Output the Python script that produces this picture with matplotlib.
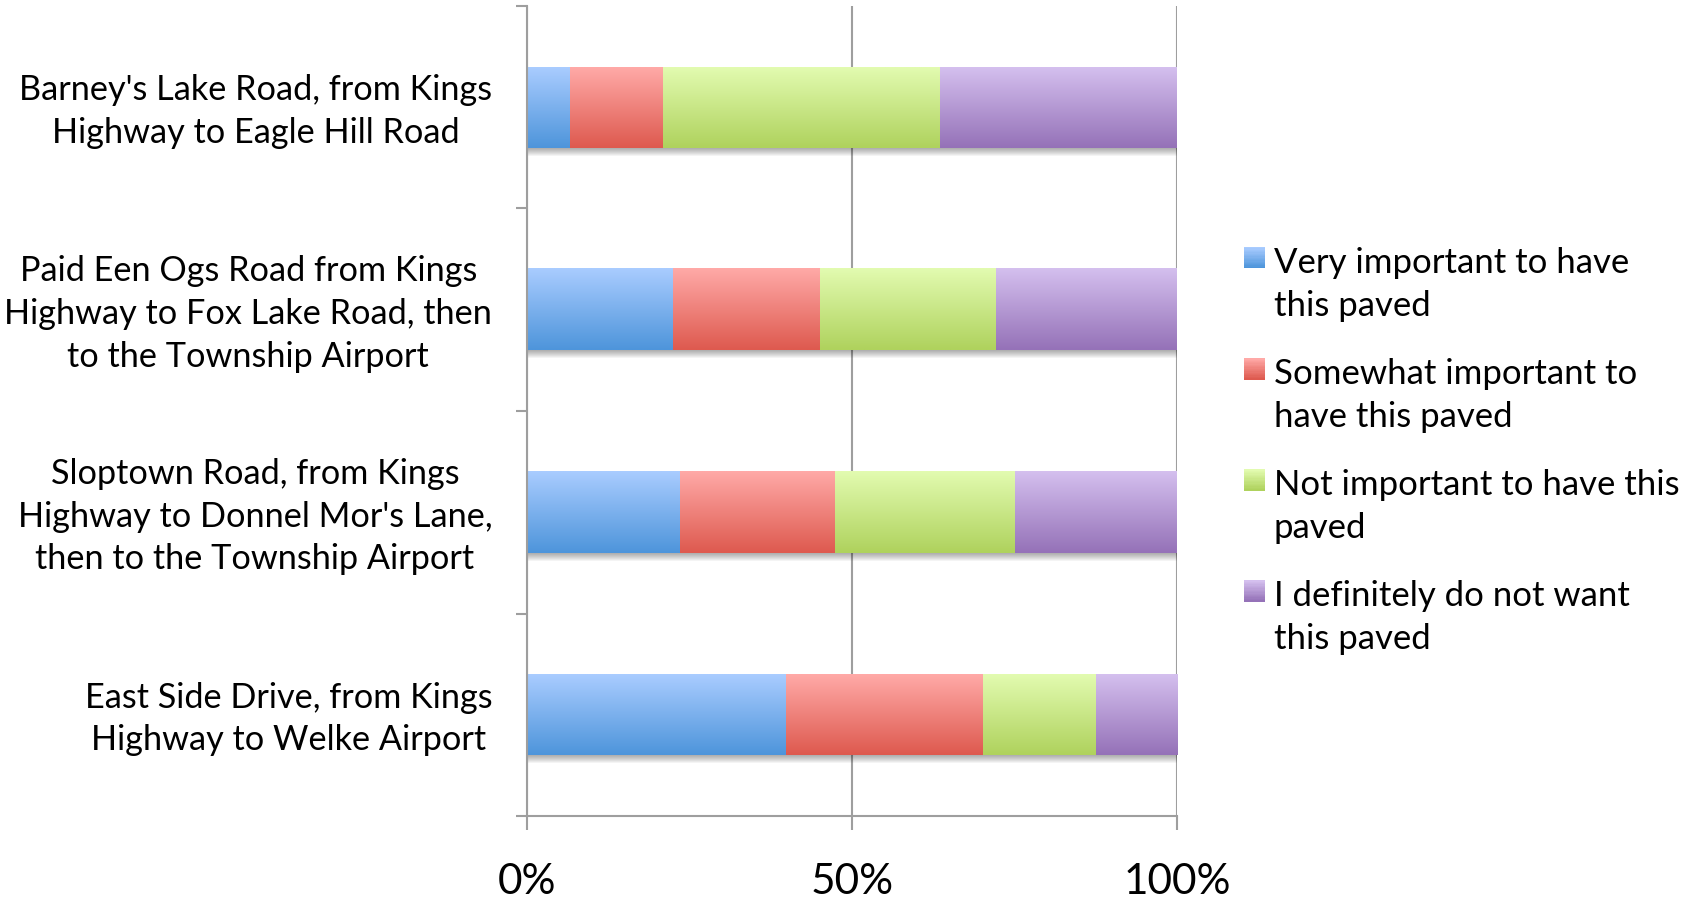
import numpy as np
import matplotlib
matplotlib.use("Agg")
import matplotlib.pyplot as plt
from matplotlib.patches import Rectangle
from matplotlib.legend_handler import HandlerBase
from matplotlib.transforms import ScaledTranslation
from matplotlib.colors import to_rgb

# ---------------- data ----------------
categories = [
    "Barney's Lake Road, from Kings\nHighway to Eagle Hill Road",
    "Paid Een Ogs Road from Kings\nHighway to Fox Lake Road, then\nto the Township Airport",
    "Sloptown Road, from Kings\nHighway to Donnel Mor's Lane,\nthen to the Township Airport",
    "East Side Drive, from Kings\nHighway to Welke Airport",
]
series_names = [
    "Very important to have\nthis paved",
    "Somewhat important to\nhave this paved",
    "Not important to have this\npaved",
    "I definitely do not want\nthis paved",
]
very_important = [6.6, 22.4, 23.5, 39.9]
somewhat_important = [14.3, 22.7, 23.9, 30.3]
not_important = [42.7, 27.1, 27.7, 17.3]
definitely_not = [36.4, 27.8, 24.9, 12.5]
x_ticks = [0, 50, 100]
x_tick_labels = ["0%", "50%", "100%"]

series_values = [very_important, somewhat_important, not_important, definitely_not]

# gradient colours (top, bottom)
grads = [
    ("#A9CCFF", "#4E95DB"),
    ("#FFA9A7", "#DE5A4F"),
    ("#E2FBB0", "#AFD25D"),
    ("#D4BFEE", "#9572B8"),
]

FONT = "Lato"
plt.rcParams["font.family"] = [FONT, "DejaVu Sans"]

W, H = 1696, 900
fig = plt.figure(figsize=(W / 100, H / 100), dpi=100)
ax = fig.add_axes([527 / W, 84 / H, 650 / W, 810 / H])

ypos = np.arange(len(categories))
bar_h = 0.4
gray = "#9E9E9E"

# shadows under bars
totals = np.sum(np.array(series_values), axis=0)
for k in range(1, 9):
    off = ScaledTranslation(1 / 100, -k / 100, fig.dpi_scale_trans)
    ax.barh(ypos, totals, height=bar_h, color="black", alpha=0.045,
            linewidth=0, zorder=1.5, transform=ax.transData + off)

left = np.zeros(len(categories))
for vals, (ctop, cbot) in zip(series_values, grads):
    bars = ax.barh(ypos, vals, left=left, height=bar_h, color=cbot,
                   linewidth=0, zorder=2)
    t = np.array(to_rgb(ctop))
    b = np.array(to_rgb(cbot))
    f = np.linspace(0, 1, 64)[:, None]
    img = (t * (1 - f) + b * f)[:, None, :]
    for p in bars.patches:
        x0, y0, w, h = p.get_x(), p.get_y(), p.get_width(), p.get_height()
        ax.imshow(img, extent=(x0, x0 + w, y0 + h, y0), origin="upper",
                  aspect="auto", interpolation="bilinear", zorder=2.1)
    left += np.array(vals)

ax.set_xlim(0, 100)
ax.set_ylim(len(categories) - 0.5, -0.5)
ax.set_aspect("auto")

# grid
ax.set_axisbelow(True)
ax.xaxis.grid(True, color=gray, linewidth=1.5)

# spines
for s in ["top", "right"]:
    ax.spines[s].set_visible(False)
for s in ["left", "bottom"]:
    ax.spines[s].set_color(gray)
    ax.spines[s].set_linewidth(1.5)

# x ticks
ax.set_xticks(x_ticks)
ax.set_xticklabels(x_tick_labels, fontsize=30.5)
ax.tick_params(axis="x", direction="out", length=10, width=1.5, color=gray, pad=24)

# y ticks: major at boundaries (no labels), minor at centers with labels
ax.set_yticks(np.arange(-0.5, len(categories), 1.0))
ax.set_yticklabels([])
ax.tick_params(axis="y", which="major", direction="out", length=8, width=1.5, color=gray)
ax.set_yticks(ypos, minor=True)
ax.set_yticklabels(categories, minor=True, fontsize=24.7, multialignment="center",
                   linespacing=1.41)
ax.tick_params(axis="y", which="minor", length=0, pad=25)
shift_up = ScaledTranslation(0, 4 / 100, fig.dpi_scale_trans)
for lab in ax.get_yticklabels(minor=True):
    lab.set_transform(lab.get_transform() + shift_up)


class GradHandler(HandlerBase):
    def __init__(self, top, bot, **kw):
        super().__init__(**kw)
        self.top = np.array(to_rgb(top))
        self.bot = np.array(to_rgb(bot))

    def create_artists(self, legend, orig_handle, xdescent, ydescent, width,
                       height, fontsize, trans):
        s = 15.1
        x0 = -xdescent
        ybot = 20.7
        n = 16
        arts = []
        for i in range(n):
            f = i / (n - 1)
            c = self.top * (1 - f) + self.bot * f
            r = Rectangle((x0, ybot + s - s * (i + 1) / n), s, s / n + 0.3,
                          facecolor=c, edgecolor="none", transform=trans)
            arts.append(r)
        return arts


handles = [Rectangle((0, 0), 1, 1) for _ in series_names]
hmap = {h: GradHandler(t, b) for h, (t, b) in zip(handles, grads)}
leg_fs = 25
leg = fig.legend(handles, series_names, handler_map=hmap, loc="center left",
                 bbox_to_anchor=(1244 / W, 0.499), frameon=False,
                 fontsize=leg_fs, borderpad=0, borderaxespad=0,
                 handlelength=15.1 / leg_fs, handleheight=1.0,
                 handletextpad=(21.6 - 15.1) / leg_fs, labelspacing=1.05)
for t in leg.get_texts():
    t.set_linespacing(1.41)

fig.savefig("out.png", dpi=100)
